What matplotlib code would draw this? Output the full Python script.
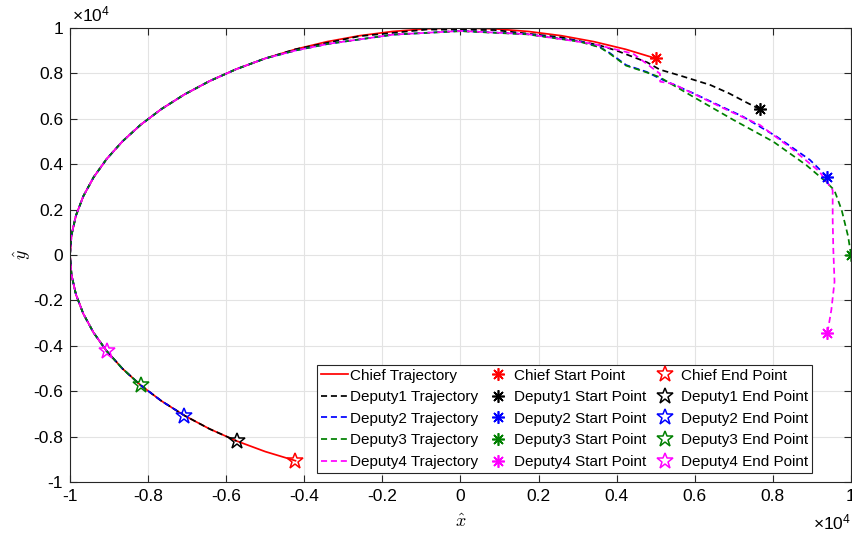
import numpy as np
import matplotlib.pyplot as plt

plt.rcParams['font.family'] = ['Liberation Sans', 'DejaVu Sans']
plt.rcParams['mathtext.fontset'] = 'custom'
plt.rcParams['mathtext.rm'] = 'Liberation Sans'
plt.rcParams['mathtext.it'] = 'Liberation Sans:italic'

# orbit radius and angles (deg) of the chief trajectory
R = 10000
chief_deg = [60, 65, 70, 75, 80, 85, 90, 95, 100, 105, 110, 115, 120, 125, 130,
             135, 140, 145, 150, 155, 160, 165, 170, 175, 180, 185, 190, 195,
             200, 205, 210, 215, 220, 225, 230, 235, 240, 245]

# deputy approach paths: angle (deg) and radius (fraction of R)
dep1_deg = [40, 42.5, 46, 49.5, 54.6, 58, 60.6, 66, 69, 75, 85, 95, 105, 115]
dep1_r = [1.0, 0.994, 0.99, 0.985, 0.970, 0.963, 0.974, 0.985, 0.990, 0.993, 0.995, 0.997, 0.998, 1.0]
dep2_deg = [20.2, 25.1, 32.8, 40.1, 50.1, 56.7, 59.4, 63.1, 66.7, 68.7, 72, 80, 90, 100, 110, 115]
dep2_r = [1.0, 0.988, 0.963, 0.946, 0.929, 0.930, 0.937, 0.938, 0.968, 0.983, 0.99, 0.988, 0.987, 0.986, 0.99, 0.995]
dep3_deg = [0, 4.7, 11.5, 16.6, 19.0, 24.1, 31.9, 40.4, 49.5, 57.0, 59.4, 63.1, 66.7, 68.7, 72, 80, 90, 100, 110, 115]
dep3_r = [1.0, 0.996, 0.996, 0.999, 0.99, 0.97, 0.944, 0.918, 0.917, 0.935, 0.935, 0.936, 0.966, 0.982, 0.988, 0.987, 0.986, 0.986, 0.99, 0.995]
dep4_deg = [-20, -14.3, -7, 1.3, 9, 16.7, 21.8, 28.5, 36.8, 43.1, 48.7, 54.1, 56.2, 57.4, 63.5, 70, 80, 90, 100, 110, 115]
dep4_r = [1.0, 0.98, 0.965, 0.955, 0.965, 0.995, 0.99, 0.97, 0.957, 0.935, 0.928, 0.93, 0.919, 0.948, 0.991, 0.99, 0.988, 0.987, 0.986, 0.99, 0.995]
# angle where each deputy stops on the chief orbit
end_deg = [235, 225, 215, 205]

names = ['Chief', 'Deputy1', 'Deputy2', 'Deputy3', 'Deputy4']
colors = ['red', 'black', 'blue', (0, 0.5, 0), 'magenta']


def to_xy(deg, r):
    t = np.radians(deg)
    return R * np.array(r) * np.cos(t), R * np.array(r) * np.sin(t)


paths = [to_xy(chief_deg, [1.0] * len(chief_deg))]
for d, r, e in zip([dep1_deg, dep2_deg, dep3_deg, dep4_deg],
                   [dep1_r, dep2_r, dep3_r, dep4_r], end_deg):
    rest = [a for a in chief_deg if 115 < a <= e]
    paths.append(to_xy(d + rest, r + [1.0] * len(rest)))

fig = plt.figure(figsize=(8.53, 5.37), dpi=100)
ax = fig.add_axes([70 / 853, 1 - 482 / 537, 781 / 853, 454 / 537])

h_traj, h_start, h_end = [], [], []
for i, (x, y) in enumerate(paths):
    ls = '-' if i == 0 else '--'
    l, = ax.plot(x, y, ls, color=colors[i], lw=1.25, dashes=(3.5, 2.2) if i else (None, None),
                 label=names[i] + ' Trajectory')
    h_traj.append(l)
for i, (x, y) in enumerate(paths):
    s, = ax.plot(x[0], y[0], ls='none', marker=(8, 2, 0), ms=9, mew=1.2,
                 color=colors[i], label=names[i] + ' Start Point')
    h_start.append(s)
for i, (x, y) in enumerate(paths):
    e, = ax.plot(x[-1], y[-1], ls='none', marker='*', ms=12, mew=1.1,
                 mfc='none', mec=colors[i], label=names[i] + ' End Point')
    h_end.append(e)

ax.set_xlim(-R, R)
ax.set_ylim(-R, R)
ticks = [-1, -0.8, -0.6, -0.4, -0.2, 0, 0.2, 0.4, 0.6, 0.8, 1]
labels = ['%g' % t for t in ticks]
ax.set_xticks([t * R for t in ticks], labels)
ax.set_yticks([t * R for t in ticks], labels)
ax.tick_params(direction='in', length=5, width=0.8, color='#262626',
               labelsize=12.5, top=True, right=True, pad=5)
ax.grid(True, color='#e3e3e3', lw=0.8)
ax.set_axisbelow(True)
for sp in ax.spines.values():
    sp.set_color('#262626')
    sp.set_linewidth(0.8)

ax.text(0.003, 1.008, r'$\times\mathregular{10^4}$', transform=ax.transAxes,
        fontsize=12.5, ha='left', va='bottom')
ax.text(1.0, -0.068, r'$\times\mathregular{10^4}$', transform=ax.transAxes,
        fontsize=12.5, ha='right', va='top')
fig.text(461 / 853, 1 - 522 / 537, r'$\hat{x}$', math_fontfamily='cm',
         fontsize=13, ha='center', va='center')
fig.text(22 / 853, 1 - 255 / 537, r'$\hat{y}$', math_fontfamily='cm',
         fontsize=13, ha='center', va='center', rotation=90)

leg = ax.legend(handles=h_traj + h_start + h_end, ncol=3, loc='lower right',
                bbox_to_anchor=(0.950, 0.020), borderaxespad=0, fontsize=11,
                fancybox=False, framealpha=1, edgecolor='#262626',
                handlelength=1.8, handletextpad=0.15, columnspacing=0.35,
                labelspacing=0.5, borderpad=0.25)
leg.get_frame().set_linewidth(0.8)

fig.savefig('out.png', dpi=100)
